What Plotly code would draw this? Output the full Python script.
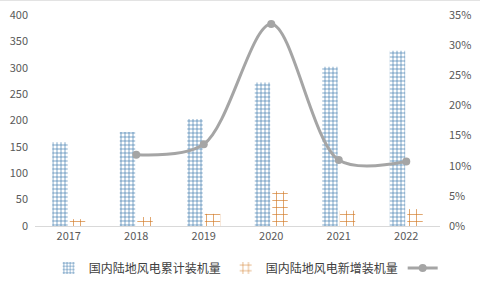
import plotly.graph_objects as go

years = ["2017", "2018", "2019", "2020", "2021", "2022"]
cumulative = [159, 178, 203, 272, 302, 332]
new_added = [13, 17, 23, 66, 29, 32]
growth_years = ["2018", "2019", "2020", "2021", "2022"]
growth = [0.118, 0.1355, 0.335, 0.1095, 0.107]

left_ticks = [0, 50, 100, 150, 200, 250, 300, 350, 400]
right_ticks = [0, 0.05, 0.10, 0.15, 0.20, 0.25, 0.30, 0.35]

font_family = "Microsoft YaHei, Noto Sans CJK SC, sans-serif"

fig = go.Figure()
fig.add_trace(go.Bar(
    x=years, y=cumulative, name="国内陆地风电累计装机量",
    marker=dict(color="white", line=dict(width=0),
                pattern=dict(shape="+", fgcolor="#4680b0", bgcolor="white", fgopacity=1,
                             size=4, solidity=0.32, fillmode="overlay")),
))
fig.add_trace(go.Bar(
    x=years, y=new_added, name="国内陆地风电新增装机量",
    marker=dict(color="white", line=dict(width=0),
                pattern=dict(shape="+", fgcolor="#d17a26", bgcolor="white", fgopacity=1,
                             size=7, solidity=0.18, fillmode="overlay")),
))
fig.add_trace(go.Scatter(
    x=growth_years, y=growth, name=" ", yaxis="y2",
    mode="lines+markers",
    line=dict(color="#a5a5a5", width=3, shape="spline", smoothing=0.9),
    marker=dict(color="#a5a5a5", size=8),
))

fig.update_layout(
    width=480, height=291,
    margin=dict(l=35, r=40, t=15, b=65, autoexpand=False),
    paper_bgcolor="white", plot_bgcolor="white",
    barmode="group", bargap=0.48, bargroupgap=0.12,
    font=dict(family=font_family, size=11, color="#595959"),
    showlegend=True,
    legend=dict(orientation="h", x=0.53, xanchor="center", y=-0.13, yanchor="top",
                font=dict(size=12, color="#404040"), itemwidth=30,
                traceorder="normal", tracegroupgap=0),
    xaxis=dict(type="category", showgrid=False, showline=True, linecolor="#d9d9d9",
               linewidth=1, ticks="", tickfont=dict(size=11, color="#595959")),
    yaxis=dict(range=[0, 400], tickvals=left_ticks, showgrid=False, zeroline=False,
               showline=False, ticklabelstandoff=6,
               tickfont=dict(size=11, color="#595959")),
    yaxis2=dict(range=[0, 0.35], tickvals=right_ticks, tickformat=".0%",
                overlaying="y", side="right", showgrid=False, zeroline=False,
                showline=False, ticklabelstandoff=8,
                tickfont=dict(size=11, color="#595959")),
    shapes=[
        dict(type="line", xref="paper", yref="paper", x0=-0.1, x1=1.12,
             y0=1.07, y1=1.07, line=dict(color="#d9d9d9", width=1)),
    ],
)

fig.write_html("out.html")
